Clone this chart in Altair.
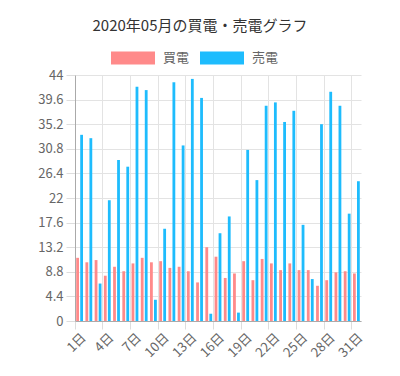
import altair as alt
import pandas as pd

days = ["1日", "2日", "3日", "4日", "5日", "6日", "7日", "8日", "9日", "10日",
        "11日", "12日", "13日", "14日", "15日", "16日", "17日", "18日", "19日", "20日",
        "21日", "22日", "23日", "24日", "25日", "26日", "27日", "28日", "29日", "30日", "31日"]
tick_days = ["1日", "4日", "7日", "10日", "13日", "16日", "19日", "22日", "25日", "28日", "31日"]
series = ["買電", "売電"]
buy = [11.3, 10.5, 10.9, 8.1, 9.7, 8.9, 10.3, 11.3, 10.5, 10.7,
       9.5, 9.7, 8.9, 6.9, 13.2, 11.5, 7.7, 8.5, 10.7, 7.3,
       11.1, 10.3, 9.1, 10.3, 9.1, 9.1, 6.3, 7.3, 8.7, 8.9, 8.5]
sell = [33.3, 32.7, 6.7, 21.6, 28.8, 27.6, 41.9, 41.3, 3.8, 16.5,
        42.7, 31.4, 43.3, 39.9, 1.3, 15.7, 18.7, 1.5, 30.6, 25.2,
        38.5, 39.1, 35.6, 37.6, 17.2, 7.5, 35.2, 41.0, 38.5, 19.2, 25.0]
y_ticks = [0, 4.4, 8.8, 13.2, 17.6, 22, 26.4, 30.8, 35.2, 39.6, 44]
colors = ["#FF8A8A", "#1EBCFD"]

df = pd.DataFrame({
    "day": days + days,
    "series": [series[0]] * len(days) + [series[1]] * len(days),
    "value": buy + sell,
})

FONT = "Noto Sans CJK JP"

chart = alt.Chart(df).mark_bar(opacity=1).encode(
    x=alt.X("day:N", sort=days,
            scale=alt.Scale(paddingInner=0, paddingOuter=0),
            axis=alt.Axis(values=tick_days, labelAngle=-45, bandPosition=0, title=None,
                          grid=True, gridColor="#e3e3e3", domainColor="#aaaaaa",
                          tickColor="#dddddd", tickSize=8, labelPadding=2,
                          labelColor="#666666", labelFontSize=13, labelFont=FONT)),
    xOffset=alt.XOffset("series:N", sort=series,
                        scale=alt.Scale(paddingInner=0.3, paddingOuter=0.3)),
    y=alt.Y("value:Q", scale=alt.Scale(domain=[0, 44], nice=False),
            axis=alt.Axis(values=y_ticks, title=None, format=".1~f",
                          grid=True, gridColor="#e3e3e3", domainColor="#aaaaaa",
                          tickColor="#dddddd", tickSize=9, labelPadding=3,
                          labelColor="#666666", labelFontSize=13, labelFont=FONT)),
    color=alt.Color("series:N", sort=series,
                    scale=alt.Scale(domain=series, range=colors),
                    legend=alt.Legend(title=None, orient="none", legendX=36, legendY=-39,
                                      direction="horizontal", padding=0,
                                      symbolType="M-1,-0.3H1V0.3H-1Z", symbolSize=1936,
                                      symbolStrokeWidth=0, symbolOpacity=1,
                                      labelOffset=8, columnPadding=10,
                                      labelFontSize=13, labelColor="#666666", labelFont=FONT)),
).properties(
    width=286,
    height=246,
    padding={"left": 75, "top": 75, "right": 39, "bottom": 55},
    autosize=alt.AutoSizeParams(type="none"),
    title=alt.Title("2020年05月の買電・売電グラフ", fontSize=15, color="#333333",
                    font=FONT, fontWeight="normal", anchor="middle", dx=-18, offset=2),
).configure_view(stroke=None)

chart.save("out.html", embed_options={"renderer": "svg", "actions": False})
